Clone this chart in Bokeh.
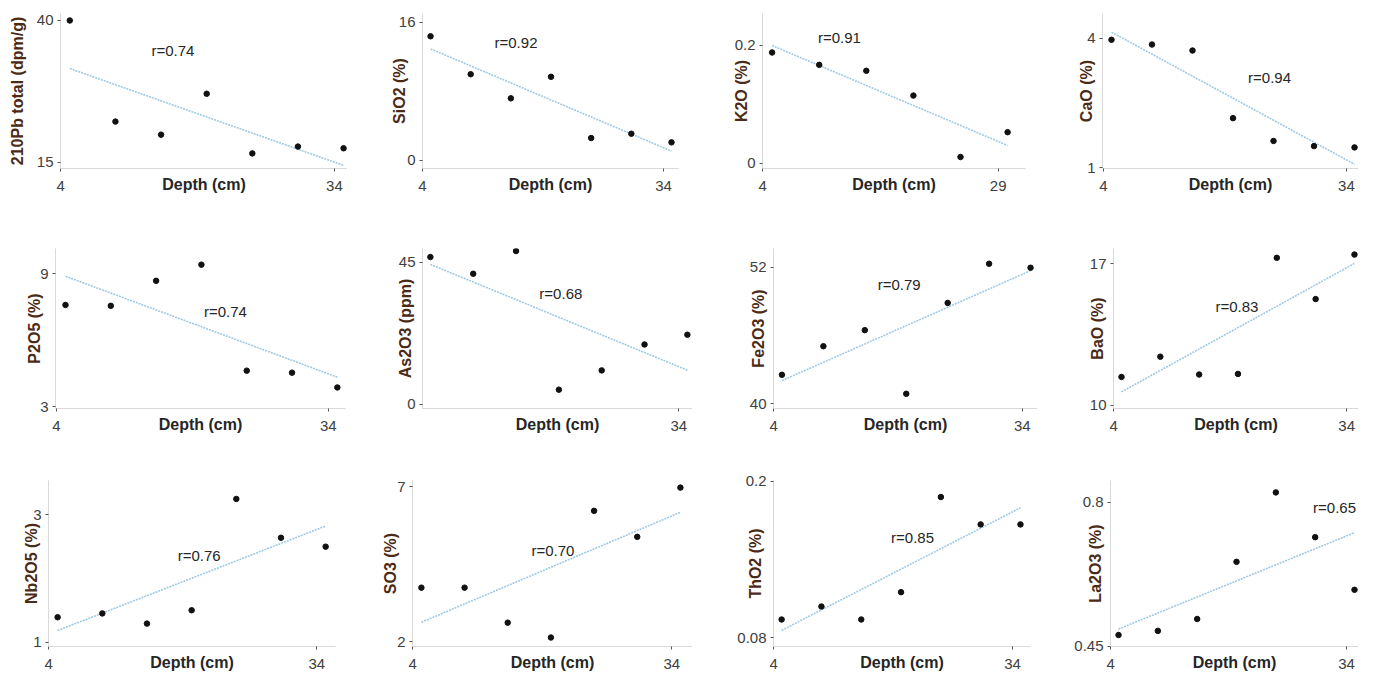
import numpy as np
from bokeh.plotting import figure
from bokeh.layouts import column, row
from bokeh.models import Range1d, FixedTicker, ColumnDataSource
from bokeh.embed import file_html
from bokeh.resources import INLINE
from bokeh.core.properties import value

# ---------------- data ----------------
depth = [5, 10, 15, 20, 25, 30, 35]
depth_k2o = [5, 10, 15, 20, 25, 30]

pb210 = [40.0, 22.2, 19.9, 27.1, 16.6, 17.8, 17.5]
sio2 = [14.4, 10.0, 7.2, 9.7, 2.6, 3.1, 2.1]
k2o = [0.188, 0.167, 0.157, 0.115, 0.011, 0.053]
cao = [3.97, 3.86, 3.72, 2.15, 1.62, 1.50, 1.47]
p2o5 = [7.59, 7.55, 8.68, 9.41, 4.62, 4.53, 3.86]
as2o3 = [46.7, 41.4, 48.6, 4.7, 10.8, 19.0, 22.1]
fe2o3 = [42.55, 45.06, 46.47, 40.88, 48.86, 52.3, 51.95]
bao = [11.41, 12.41, 11.53, 11.56, 17.3, 15.26, 17.46]
nb2o5 = [1.39, 1.45, 1.29, 1.50, 3.25, 2.64, 2.50]
so3 = [3.74, 3.74, 2.61, 2.13, 6.22, 5.38, 6.97]
tho2 = [0.094, 0.104, 0.094, 0.115, 0.188, 0.167, 0.167]
la2o3 = [0.477, 0.487, 0.516, 0.655, 0.824, 0.715, 0.587]

y_labels = ["210Pb total (dpm/g)", "SiO2 (%)", "K2O (%)", "CaO (%)",
            "P2O5 (%)", "As2O3 (ppm)", "Fe2O3 (%)", "BaO (%)",
            "Nb2O5 (%)", "SO3 (%)", "ThO2 (%)", "La2O3 (%)"]
r_labels = ["r=0.74", "r=0.92", "r=0.91", "r=0.94",
            "r=0.74", "r=0.68", "r=0.79", "r=0.83",
            "r=0.76", "r=0.70", "r=0.85", "r=0.65"]
x_label = "Depth (cm)"

x_tick_vals = [[4, 34], [4, 34], [4, 29], [4, 34],
               [4, 34], [4, 34], [4, 34], [4, 34],
               [4, 34], [4, 34], [4, 34], [4, 34]]
y_tick_vals = [[15, 40], [0, 16], [0, 0.2], [1, 4],
               [3, 9], [0, 45], [40, 52], [10, 17],
               [1, 3], [2, 7], [0.08, 0.2], [0.45, 0.8]]
y_tick_text = [["15", "40"], ["0", "16"], ["0", "0.2"], ["1", "4"],
               ["3", "9"], ["0", "45"], ["40", "52"], ["10", "17"],
               ["1", "3"], ["2", "7"], ["0.08", "0.2"], ["0.45", "0.8"]]

series = [(depth, pb210), (depth, sio2), (depth_k2o, k2o), (depth, cao),
          (depth, p2o5), (depth, as2o3), (depth, fe2o3), (depth, bao),
          (depth, nb2o5), (depth, so3), (depth, tho2), (depth, la2o3)]

# ---------------- layout (positions / ranges / styles) ----------------
COL_X = [0, 347, 692, 1037, 1358]
ROW_Y = [0, 217, 444, 673]
ROW_FRAME = [(13, 168), (248, 408), (480, 647)]
FRAME_LR = [(60, 350), (422, 678), (762, 1025), (1102, 1358),
            (55, 345), (422, 692), (773, 1037), (1113, 1358),
            (48, 335), (412, 692), (773, 1030), (1110, 1358)]
XR = [(3.98, 35.43), (4.0, 35.87), (3.98, 31.9), (3.89, 35.49),
      (3.9, 35.9), (4.08, 35.6), (3.98, 35.84), (3.97, 35.52),
      (3.98, 36.1), (3.97, 36.4), (3.98, 36.26), (3.98, 35.51)]
YR = [(13.94, 41.23), (-0.93, 17.04), (-0.0085, 0.254), (0.98, 4.58),
      (2.91, 10.14), (-1.27, 49.4), (39.59, 53.64), (9.85, 17.76),
      (0.93, 3.54), (1.84, 7.2), (0.0733, 0.2007), (0.449, 0.853)]
R_POS = [(16.3, 34.7), (15.64, 13.68), (12.15, 0.2133), (24.51, 3.09),
         (22.65, 7.28), (20.23, 35.14), (19.14, 50.48), (19.87, 14.87),
         (20.84, 2.36), (20.23, 4.93), (21.44, 0.1568), (32.46, 0.787)]
Y_LABEL_STANDOFF = [8, -12, -18, -11, -6, -18, -20, -19, -10, -5, -30, -33]

FONT = "Liberation Sans"
TICK_COLOR = "#404040"
XLABEL_COLOR = "#262626"
YLABEL_COLOR = "#4b2a16"
AXIS_COLOR = "#d9d9d9"
TREND_COLOR = "#9fc9e4"

figs = []
for i in range(12):
    r, c = divmod(i, 4)
    cx0, cx1 = COL_X[c], COL_X[c + 1]
    ry0, ry1 = ROW_Y[r], ROW_Y[r + 1]
    ft, fb = ROW_FRAME[r]
    fl, fr = FRAME_LR[i]
    p = figure(width=cx1 - cx0, height=ry1 - ry0,
               x_range=Range1d(*XR[i]), y_range=Range1d(*YR[i]),
               output_backend="svg", toolbar_location=None, tools="",
               min_border_left=fl - cx0, min_border_right=cx1 - fr,
               min_border_top=ft - ry0, min_border_bottom=ry1 - fb)
    p.outline_line_color = None
    p.background_fill_color = "white"
    p.border_fill_color = "white"
    p.grid.visible = False

    xs, ys = series[i]
    xa = np.array(xs, dtype=float)
    ya = np.array(ys, dtype=float)
    coef = np.polyfit(xa, ya, 1)
    ends = np.array([xa[0], xa[-1]])
    p.line(ends, np.polyval(coef, ends), line_color=TREND_COLOR,
           line_width=1.6, line_dash="2 1")
    p.scatter(xs, ys, size=5.5, color="#111111")

    src = ColumnDataSource(dict(x=[R_POS[i][0]], y=[R_POS[i][1]], t=[r_labels[i]]))
    p.text(x="x", y="y", text="t", source=src, text_align="center",
           text_baseline="middle", text_font=value(FONT),
           text_font_size="15px", text_color="#262626")

    # x axis
    xax = p.xaxis[0]
    xax.ticker = FixedTicker(ticks=x_tick_vals[i])
    xax.major_label_overrides = {v: str(v) for v in x_tick_vals[i]}
    xax.axis_label = x_label
    xax.axis_label_text_font = FONT
    xax.axis_label_text_font_size = "16px"
    xax.axis_label_text_font_style = "bold"
    xax.axis_label_text_color = XLABEL_COLOR
    xax.axis_label_standoff = -18
    xax.major_label_text_font = FONT
    xax.major_label_text_font_size = "15px"
    xax.major_label_text_color = TICK_COLOR
    xax.major_label_standoff = 9
    xax.axis_line_color = AXIS_COLOR
    xax.major_tick_line_color = "#555555"
    xax.major_tick_out = 3
    xax.major_tick_in = 0
    xax.minor_tick_line_color = None

    # y axis
    yax = p.yaxis[0]
    yax.ticker = FixedTicker(ticks=y_tick_vals[i])
    yax.major_label_overrides = {v: t for v, t in zip(y_tick_vals[i], y_tick_text[i])}
    yax.axis_label = y_labels[i]
    yax.axis_label_text_font = FONT
    yax.axis_label_text_font_size = "16px"
    yax.axis_label_text_font_style = "bold"
    yax.axis_label_text_color = YLABEL_COLOR
    yax.axis_label_standoff = Y_LABEL_STANDOFF[i]
    yax.major_label_text_font = FONT
    yax.major_label_text_font_size = "15px"
    yax.major_label_text_color = TICK_COLOR
    yax.major_label_standoff = 4
    yax.axis_line_color = AXIS_COLOR
    yax.major_tick_line_color = "#555555"
    yax.major_tick_out = 3
    yax.major_tick_in = 0
    yax.minor_tick_line_color = None

    figs.append(p)

layout = column(row(*figs[0:4]), row(*figs[4:8]), row(*figs[8:12]))

open("out.html", "w").write(file_html(layout, INLINE))
